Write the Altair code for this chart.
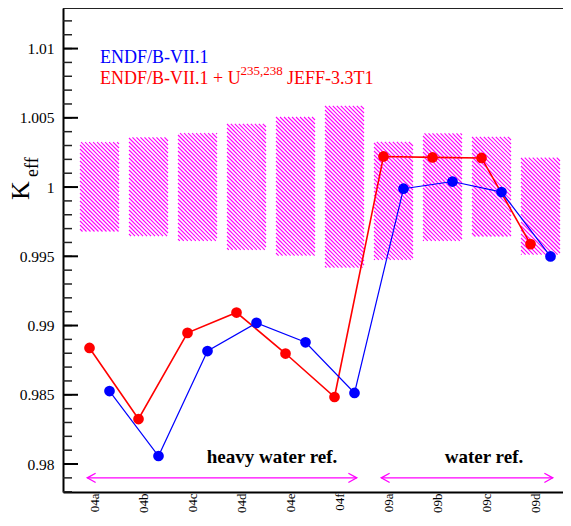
import json
import altair as alt
import numpy as np
import pandas as pd

# ---------------- data ----------------
cats = ["04a", "04b", "04c", "04d", "04e", "04f", "09a", "09b", "09c", "09d"]
keff_endf = [0.98527, 0.98058, 0.98816, 0.99019, 0.98879, 0.98513,
             0.99988, 1.00040, 0.99964, 0.99499]
keff_jeff = [0.98838, 0.98325, 0.98947, 0.99094, 0.98798, 0.98484,
             1.00221, 1.00214, 1.00210, 0.99588]
bench_hi = [1.00325, 1.00358, 1.00390, 1.00457, 1.00506, 1.00587,
            1.00327, 1.00387, 1.00363, 1.00212]
bench_lo = [0.99679, 0.99646, 0.99612, 0.99547, 0.99505, 0.99419,
            0.99474, 0.99612, 0.99643, 0.99512]
y_major = [0.98, 0.985, 0.99, 0.995, 1.0, 1.005, 1.01]
y_minor = [round(0.978 + 0.001 * k, 3) for k in range(35)]
group_names = ["heavy water ref.", "water ref."]
group_first = [0, 6]
group_last = [5, 9]
arrow_level = [0.979, 0.979]
legend_texts = ["ENDF/B-VII.1", "ENDF/B-VII.1 + U", "235,238", "JEFF-3.3T1"]

# ---------------- layout constants ----------------
W, H = 500, 484
XMIN = -0.745
XMAX = XMIN + W / 49.0
YMIN, YMAX = 0.97798, 1.01293
OFF = 0.204     # horizontal shift of the two series
HALF = 0.398    # half width of the benchmark boxes
SERIF = "Liberation Serif"
MAG = "#ff00ff"

xscale = alt.Scale(domain=[XMIN, XMAX], nice=False, zero=False)
yscale = alt.Scale(domain=[YMIN, YMAX], nice=False, zero=False)

xaxis = alt.Axis(values=list(range(len(cats))),
                 labelExpr=json.dumps(cats) + "[datum.value]",
                 labelAngle=270, labelFont=SERIF, labelFontSize=13,
                 labelColor="black", tickSize=0, labelPadding=1,
                 labelOffset=-5, domainWidth=2, domainColor="black",
                 grid=False, title=None)
yaxis = alt.Axis(values=y_major, format=".3~f", labelFont=SERIF,
                 labelFontSize=15.5, labelColor="black", tickSize=0,
                 labelPadding=9, domainWidth=2, domainColor="black",
                 grid=False, title=None)

# ---------------- hatch segments for benchmark boxes ----------------
def px_x(v): return (v - XMIN) / (XMAX - XMIN) * W
def px_y(v): return (YMAX - v) / (YMAX - YMIN) * H
def dx(p): return XMIN + p / W * (XMAX - XMIN)
def dy(p): return YMAX - p / H * (YMAX - YMIN)

segs = []
step = 4.0
for i, (hi, lo) in enumerate(zip(bench_hi, bench_lo)):
    xl, xr = px_x(i - HALF), px_x(i + HALF)
    yt, yb = px_y(hi), px_y(lo)
    c = np.floor((yt - xr) / step) * step
    while c <= yb - xl:
        xs0 = max(xl, yt - c)
        xe = min(xr, yb - c)
        if xe - xs0 > 0.3:
            segs.append(dict(x=dx(xs0), y=dy(xs0 + c), x2=dx(xe), y2=dy(xe + c)))
        c += step
hatch_df = pd.DataFrame(segs)

idx = list(range(len(cats)))
endf_df = pd.DataFrame({"i": [k + OFF for k in idx], "k": keff_endf})
jeff_df = pd.DataFrame({"i": [k - OFF for k in idx], "k": keff_jeff})
arrow_df = pd.DataFrame({"a": [f - 0.25 for f in group_first],
                         "b": [l + 0.25 for l in group_last],
                         "y": arrow_level})
tick_major_df = pd.DataFrame({"v": y_major})
tick_minor_df = pd.DataFrame({"v": y_minor})
one = pd.DataFrame({"d": [0]})

hatch = alt.Chart(hatch_df).mark_rule(color=MAG, strokeWidth=1.1).encode(
    x=alt.X("x:Q", scale=xscale, axis=xaxis),
    y=alt.Y("y:Q", scale=yscale, axis=yaxis),
    x2="x2:Q", y2="y2:Q")

minor_ticks = alt.Chart(tick_minor_df).mark_rule(color="#222", strokeWidth=1.5).encode(
    x=alt.value(0), x2=alt.value(9), y=alt.Y("v:Q", scale=yscale, axis=yaxis))
major_ticks = alt.Chart(tick_major_df).mark_rule(color="black", strokeWidth=2).encode(
    x=alt.value(0), x2=alt.value(15), y=alt.Y("v:Q", scale=yscale, axis=yaxis))
top_line = alt.Chart(one).mark_rule(color="#222", strokeWidth=2).encode(
    x=alt.value(0), x2=alt.value(W), y=alt.value(0))

def series(df, color, lw):
    base = alt.Chart(df).encode(
        x=alt.X("i:Q", scale=xscale, axis=xaxis),
        y=alt.Y("k:Q", scale=yscale, axis=yaxis))
    return (base.mark_line(color=color, strokeWidth=lw) +
            base.mark_circle(color=color, size=115, opacity=1))

red = series(jeff_df, "#ff0000", 1.6)
blue = series(endf_df, "#0000ff", 1.2)

arrow_line = alt.Chart(arrow_df).mark_rule(color=MAG, strokeWidth=1.3).encode(
    x=alt.X("a:Q", scale=xscale, axis=xaxis), x2="b:Q",
    y=alt.Y("y:Q", scale=yscale, axis=yaxis))
head_l = alt.Chart(arrow_df).mark_point(
    shape="M2,-1.1L0,0L2,1.1", filled=False, color=MAG, strokeWidth=1.3,
    size=70, opacity=1).encode(
    x=alt.X("a:Q", scale=xscale, axis=xaxis),
    y=alt.Y("y:Q", scale=yscale, axis=yaxis))
head_r = alt.Chart(arrow_df).mark_point(
    shape="M-2,-1.1L0,0L-2,1.1", filled=False, color=MAG, strokeWidth=1.3,
    size=70, opacity=1).encode(
    x=alt.X("b:Q", scale=xscale, axis=xaxis),
    y=alt.Y("y:Q", scale=yscale, axis=yaxis))

def txt(text, x, y, size, color="black", bold=False, align="left", angle=0):
    kw = dict(text=text, font=SERIF, fontSize=size, color=color,
              align=align, baseline="alphabetic")
    if bold:
        kw["fontWeight"] = "bold"
    if angle:
        kw["angle"] = angle
    return alt.Chart(one).mark_text(**kw).encode(x=alt.value(x), y=alt.value(y))

labels = [
    txt(legend_texts[0], 37, 55.3, 18, "#0000ff"),
    txt(legend_texts[1], 37, 76, 18, "#ff0000"),
    txt(legend_texts[2], 177.5, 67, 13, "#ff0000"),
    txt(legend_texts[3], 224, 76, 18, "#ff0000"),
    txt(group_names[0], 209, 455, 19, bold=True, align="center"),
    txt(group_names[1], 421, 455, 19, bold=True, align="center"),
    txt("K", -34, 192, 26, angle=270),
    txt("eff", -25, 169, 18, angle=270),
]

chart = alt.layer(hatch, minor_ticks, major_ticks, top_line, red, blue,
                  arrow_line, head_l, head_r, *labels).properties(
    width=W, height=H,
    autosize=alt.AutoSizeParams(type="none"),
    padding={"left": 55, "top": 0, "right": 0, "bottom": 26},
    background="white",
).configure_view(stroke=None)

chart.save("out.html", embed_options={"renderer": "svg", "actions": False})
